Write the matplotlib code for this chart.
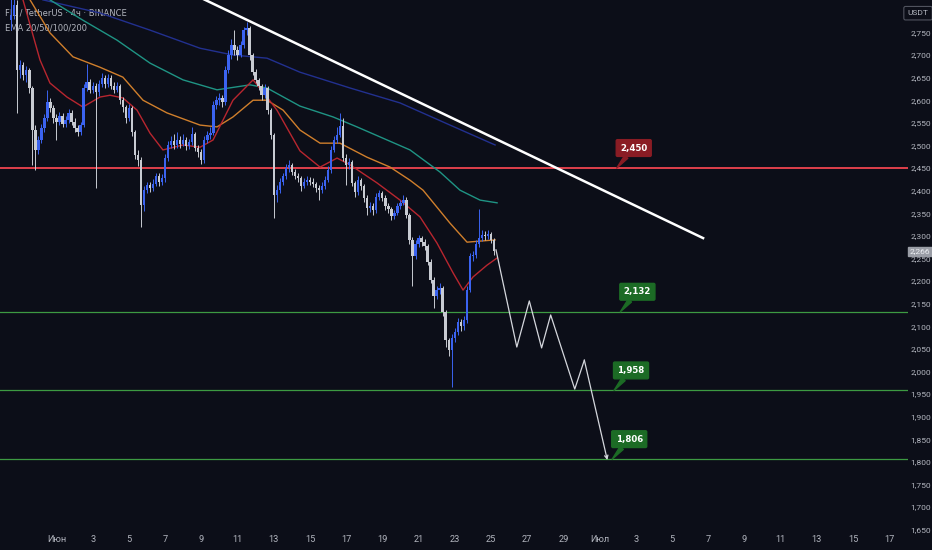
import matplotlib
matplotlib.use("Agg")
import matplotlib.pyplot as plt
import numpy as np

# FIL / USDT 4h candles, x axis = days since 1 June (first candle 29 May 12:00)
first_open = 2777
closes = [2788, 2811, 2667, 2678, 2656, 2667, 2627, 2534, 2490, 2512,
          2539, 2561, 2596, 2583, 2561, 2552, 2565, 2547, 2556, 2572,
          2552, 2539, 2530, 2545, 2627, 2640, 2623, 2631, 2618, 2636,
          2649, 2636, 2649, 2631, 2623, 2631, 2600, 2585, 2561, 2583,
          2530, 2479, 2468, 2368, 2401, 2412, 2406, 2415, 2432, 2419,
          2428, 2472, 2501, 2510, 2501, 2512, 2503, 2512, 2499, 2508,
          2525, 2494, 2486, 2468, 2512, 2523, 2528, 2589, 2600, 2605,
          2596, 2667, 2700, 2722, 2711, 2700, 2722, 2755, 2760, 2700,
          2662, 2645, 2631, 2612, 2627, 2578, 2523, 2390, 2401, 2419,
          2432, 2450, 2457, 2441, 2432, 2428, 2410, 2419, 2423, 2420,
          2415, 2406, 2401, 2410, 2423, 2446, 2490, 2512, 2523, 2543,
          2472, 2457, 2463, 2417, 2397, 2423, 2410, 2384, 2362, 2366,
          2357, 2386, 2395, 2384, 2366, 2359, 2344, 2350, 2366, 2373,
          2379, 2346, 2291, 2255, 2282, 2295, 2286, 2277, 2242, 2202,
          2167, 2180, 2185, 2131, 2070, 2047, 2074, 2087, 2109, 2100,
          2114, 2180, 2255, 2257, 2282, 2295, 2302, 2300, 2304, 2291, 2266]
highs = [2830, 2835, 2822, 2690, 2685, 2675, 2672, 2632, 2545, 2520,
         2548, 2570, 2623, 2605, 2590, 2570, 2575, 2572, 2565, 2580,
         2578, 2560, 2545, 2552, 2635, 2680, 2648, 2640, 2638, 2645,
         2660, 2655, 2658, 2655, 2640, 2640, 2636, 2608, 2590, 2592,
         2588, 2535, 2490, 2475, 2410, 2420, 2418, 2425, 2440, 2438,
         2436, 2480, 2510, 2520, 2525, 2530, 2520, 2525, 2518, 2515,
         2540, 2530, 2500, 2492, 2520, 2532, 2540, 2598, 2610, 2615,
         2612, 2675, 2712, 2735, 2755, 2720, 2730, 2762, 2773, 2765,
         2705, 2670, 2650, 2636, 2635, 2632, 2582, 2528, 2412, 2428,
         2440, 2460, 2468, 2462, 2448, 2440, 2433, 2428, 2432, 2430,
         2428, 2420, 2412, 2418, 2432, 2455, 2498, 2520, 2540, 2572,
         2560, 2480, 2472, 2468, 2422, 2432, 2428, 2415, 2390, 2375,
         2372, 2395, 2402, 2400, 2390, 2372, 2364, 2358, 2372, 2380,
         2390, 2385, 2350, 2298, 2290, 2302, 2300, 2292, 2282, 2248,
         2208, 2188, 2195, 2190, 2136, 2075, 2082, 2095, 2118, 2115,
         2122, 2188, 2262, 2266, 2290, 2360, 2312, 2310, 2312, 2308, 2296]
lows = [2755, 2780, 2572, 2650, 2645, 2640, 2615, 2457, 2446, 2480,
        2505, 2530, 2555, 2575, 2550, 2512, 2545, 2540, 2540, 2550,
        2545, 2530, 2520, 2522, 2540, 2620, 2615, 2615, 2406, 2610,
        2630, 2628, 2630, 2625, 2615, 2618, 2592, 2575, 2550, 2555,
        2520, 2470, 2455, 2320, 2355, 2395, 2398, 2400, 2410, 2410,
        2412, 2420, 2465, 2495, 2492, 2495, 2495, 2498, 2490, 2492,
        2502, 2488, 2475, 2460, 2462, 2505, 2515, 2522, 2580, 2590,
        2585, 2590, 2660, 2692, 2700, 2690, 2695, 2715, 2745, 2690,
        2655, 2638, 2622, 2600, 2605, 2570, 2515, 2339, 2375, 2395,
        2412, 2425, 2442, 2435, 2425, 2418, 2400, 2405, 2412, 2412,
        2408, 2398, 2380, 2395, 2404, 2418, 2440, 2485, 2505, 2518,
        2465, 2412, 2448, 2410, 2385, 2390, 2402, 2375, 2346, 2352,
        2345, 2350, 2380, 2376, 2358, 2350, 2335, 2338, 2345, 2360,
        2368, 2340, 2282, 2190, 2248, 2275, 2278, 2268, 2235, 2195,
        2140, 2160, 2172, 2122, 2055, 2035, 1966, 2065, 2080, 2090,
        2092, 2108, 2175, 2245, 2250, 2276, 2288, 2290, 2292, 2284, 2258]

# EMA lines (day, price)
ema20_days = [-1.85, -0.91, -0.36, 0.58, 1.46, 2.40, 2.96, 3.67, 4.45, 5.17, 5.88, 6.99, 7.93,
              8.65, 9.75, 10.86, 11.63, 12.18, 12.90, 13.45, 14.56, 15.50, 16.22, 17.71, 18.98,
              20.08, 21.02, 21.91, 22.46, 23.01, 23.78, 24.34]
ema20_vals = [2822, 2689, 2638, 2607, 2585, 2607, 2611, 2605, 2578, 2527, 2490, 2501, 2496,
              2512, 2600, 2645, 2607, 2578, 2527, 2488, 2452, 2472, 2457, 2417, 2379,
              2342, 2284, 2218, 2180, 2209, 2235, 2251]
ema50_days = [-1.46, -0.36, 0.91, 2.40, 3.67, 4.78, 6.10, 7.93, 8.87, 9.75, 10.86, 11.63,
              12.52, 13.45, 14.56, 15.66, 17.15, 18.43, 19.53, 20.25, 21.74, 22.68, 24.23]
ema50_vals = [2822, 2749, 2696, 2673, 2651, 2600, 2572, 2545, 2541, 2563, 2600, 2600,
              2578, 2534, 2505, 2505, 2474, 2452, 2423, 2401, 2328, 2286, 2291]
ema100_days = [-0.36, 1.46, 3.34, 5.17, 6.99, 8.87, 10.69, 11.63, 13.45, 15.28, 16.60,
               19.53, 21.19, 22.29, 23.40, 24.34]
ema100_vals = [2822, 2777, 2733, 2682, 2645, 2623, 2634, 2627, 2587, 2563, 2541,
               2490, 2441, 2401, 2379, 2373]
ema200_days = [-0.75, 2.40, 5.17, 7.93, 9.75, 11.63, 13.45, 16.22, 18.98, 21.74, 24.23]
ema200_vals = [2822, 2793, 2755, 2715, 2700, 2693, 2662, 2627, 2594, 2545, 2501]

# drawn levels and trendline
resistance = 2450
supports = [2132, 1958, 1806]
trend_days = [8.0, 35.72]
trend_vals = [2826, 2295]

# projected zig-zag path
path_days = [24.28, 25.43, 26.12, 26.80, 27.30, 28.63, 29.16, 30.43]
path_vals = [2269, 2054, 2156, 2052, 2125, 1961, 2025, 1804]

last_price = 2266
x_ticks = list(range(0, 47, 2))
x_labels = ["Июн", "3", "5", "7", "9", "11", "13", "15", "17", "19", "21", "23", "25", "27", "29",
            "Июл", "3", "5", "7", "9", "11", "13", "15", "17"]
y_ticks = list(range(1650, 2751, 50))

bg = "#0c0e18"
txt = "#b2b5be"
up_col = "#3b63f0"
down_col = "#c8cbd2"
axis_font = ["Liberation Sans Narrow", "Roboto", "DejaVu Sans"]

fig = plt.figure(figsize=(9.32, 5.5), dpi=100, facecolor=bg)
ax = fig.add_axes([0, 0, 908 / 932, 1])
ax.set_facecolor(bg)
for s in ax.spines.values():
    s.set_visible(False)

ax.set_xlim(-3.12, 47.04)
ax.set_ylim(1605, 2821.7)

# candles
opens = np.array([first_open] + closes[:-1])
cl = np.array(closes)
t = -2.5 + np.arange(len(closes)) / 6.0
cols = np.where(cl >= opens, up_col, down_col)
ax.vlines(t, lows, highs, colors=cols, lw=0.7, zorder=4)
body = cl - opens
body = np.where(np.abs(body) < 2, 2, body)
ax.bar(t, body, bottom=opens, width=0.13, color=cols, lw=0, zorder=5)

# EMAs
ax.plot(ema200_days, ema200_vals, color="#22308f", lw=1.0, zorder=3)
ax.plot(ema100_days, ema100_vals, color="#1f9484", lw=1.0, zorder=3)
ax.plot(ema50_days, ema50_vals, color="#d07f2c", lw=1.0, zorder=3)
ax.plot(ema20_days, ema20_vals, color="#b8262f", lw=1.0, zorder=3)

# levels
ax.axhline(resistance, color="#f0444f", lw=1.3, zorder=2)
for lv in supports:
    ax.axhline(lv, color="#3d9a42", lw=0.9, zorder=2)

ax.plot(trend_days, trend_vals, color="white", lw=1.8, zorder=6)

ax.plot(path_days[:-1], path_vals[:-1], color="#d5d7dd", lw=0.9, zorder=6)
ax.annotate("", xy=(path_days[-1], path_vals[-1]), xytext=(path_days[-2], path_vals[-2]),
            arrowprops=dict(arrowstyle="->", color="#d5d7dd", lw=0.9, shrinkA=0, shrinkB=0,
                            mutation_scale=6), zorder=6)

# level callouts
notes = [(resistance, 30.95, "#8a1c24"), (supports[0], 31.15, "#1c6b25"),
         (supports[1], 30.80, "#1c6b25"), (supports[2], 30.70, "#1c6b25")]
for lv, d, fc in notes:
    ax.annotate(f"{lv:,}", xy=(d, lv), xytext=(17, 20), textcoords="offset pixels",
                ha="center", va="center", color="white", fontsize=6.2, fontweight="bold",
                bbox=dict(boxstyle="round,pad=0.45,rounding_size=0.15", fc=fc, ec=fc),
                arrowprops=dict(arrowstyle="wedge,tail_width=0.5,shrink_factor=0.5",
                                fc=fc, ec=fc, shrinkA=0, shrinkB=0), zorder=7)

# axes ticks
ax.set_xticks(x_ticks, x_labels, family=axis_font)
ax.set_yticks(y_ticks, [f"{v:,}" for v in y_ticks], family=axis_font)
ax.yaxis.tick_right()
ax.tick_params(axis="y", length=0, pad=2, labelsize=6.1, labelcolor=txt)
ax.tick_params(axis="x", length=0, direction="in", pad=-11, labelsize=6.6, labelcolor=txt)

ax.annotate(f"{last_price:,}", xy=(1.0, last_price), xycoords=("axes fraction", "data"),
            xytext=(2, 0), textcoords="offset pixels", ha="left", va="center",
            fontsize=6.1, color="#eceef2", family=axis_font,
            bbox=dict(boxstyle="square,pad=0.2", fc="#9a9da6", ec="#9a9da6"),
            annotation_clip=False)

fig.text(0.985, 0.976, "USDT", ha="center", va="center", fontsize=6, color=txt,
         family=axis_font,
         bbox=dict(boxstyle="round,pad=0.45,rounding_size=0.2", fc=bg, ec="#50535e", lw=0.8))

ax.text(0.006, 0.984, "FIL / TetherUS · 4ч · BINANCE", transform=ax.transAxes,
        ha="left", va="top", fontsize=6, color=txt, zorder=1)
ax.text(0.006, 0.957, "EMA 20/50/100/200", transform=ax.transAxes,
        ha="left", va="top", fontsize=6, color=txt, zorder=1)

fig.savefig("out.png", dpi=100, facecolor=bg)
